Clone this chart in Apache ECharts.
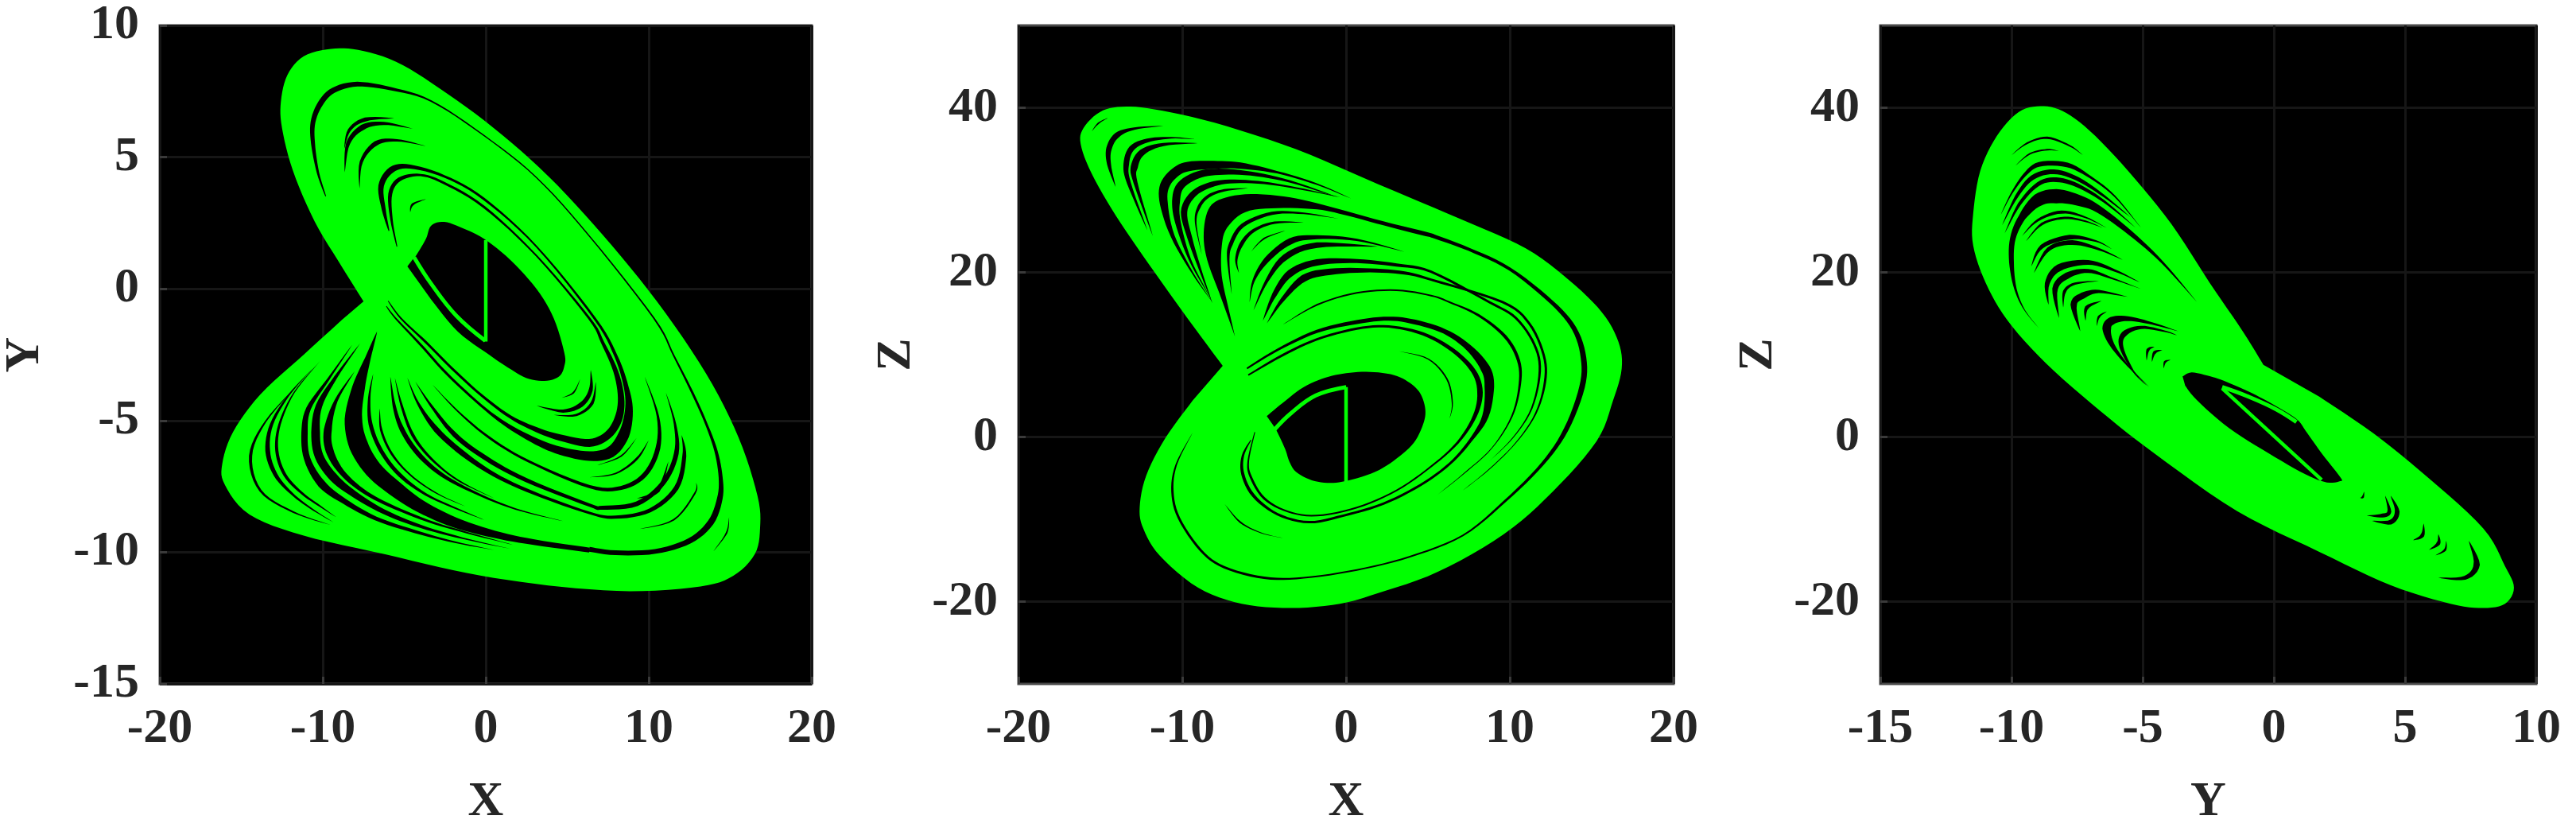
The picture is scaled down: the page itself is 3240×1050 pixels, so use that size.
<!DOCTYPE html>
<html><head><meta charset="utf-8">
<style>html,body{margin:0;background:#fff}#c{width:3240px;height:1050px}</style>
<script src="https://cdn.jsdelivr.net/npm/echarts@6/dist/echarts.min.js"></script>
</head><body><div id="c"></div>
<script>
// ---- Panel X-Y ----
const outlineXY=[[-7.5,-0.48],[-8.83,0.84],[-10.5,2.56],[-11.83,4.48],[-12.5,6.1],[-12.57,7.11],[-12.17,8.12],[-11.17,8.83],[-9.5,9.11],[-7.83,9.07],[-5.5,8.62],[-2.83,7.61],[0.5,6.1],[3.83,4.28],[7.17,2.05],[10.5,-0.48],[13.5,-3.2],[15.5,-5.63],[16.67,-7.86],[16.83,-9.07],[16.5,-10.08],[15.17,-10.9],[13.17,-11.3],[8.83,-11.48],[3.83,-11.26],[-1.17,-10.79],[-6.17,-10.08],[-11.17,-9.37],[-14.5,-8.57],[-16,-7.45],[-16.17,-6.65],[-15.5,-5.43],[-13.83,-4.01],[-11.17,-2.5],[-8.83,-1.18]];
const holeXY=[[-4.81,0.85],[-4.48,1.12],[-4.24,1.3],[-3.67,1.9],[-3.35,2.4],[-2.54,2.54],[-1.41,2.3],[-0.11,1.9],[1.5,1.1],[3.12,-0.01],[4.17,-1.12],[4.82,-2.43],[4.82,-2.93],[4.49,-3.33],[3.6,-3.5],[2.47,-3.38],[1.34,-2.98],[0.2,-2.5],[-1.73,-1.62],[-3.35,-0.41]];
const arcXY=[[-4.4,1.2],[-3.35,0.19],[-1.81,-1.02],[-0.03,-1.97]];
const stemXY=[[0,1.85],[0,-2]];
const gapsXY=[
[[-6.67,-1.62],[-7.23,-2.63],[-7.8,-3.74],[-8.12,-4.94],[-7.8,-5.95],[-6.91,-6.85],[-5.62,-7.56],[-4,-8.26],[-1.9,-8.87],[0.53,-9.32],[2.96,-9.62],[6.36,-9.92]],
[[6.35,-9.89],[7.97,-10.02],[10.4,-9.97],[12.5,-9.57],[13.8,-8.87],[14.36,-7.96],[14.41,-7.16],[14.12,-6.15],[13.47,-5.04],[12.67,-3.94],[11.53,-2.53],[10.32,-1.12],[6.36,2],[3.12,4.22],[-0.11,5.82],[-3.35,7.13],[-5.78,7.59],[-7.88,7.77],[-9.34,7.54],[-10.15,7.03],[-10.6,6.33],[-10.6,5.52],[-10.3,4.42],[-9.82,3.51]],
[[-5.99,-0.46],[-5.21,-1.12],[-3.67,-2.03],[-2.06,-3.03],[-0.27,-4.04],[1.5,-4.86],[3.12,-5.35],[4.58,-5.65],[6.35,-5.85],[7.49,-5.55],[8.13,-4.94],[8.3,-4.14],[7.97,-3.13],[7.16,-2.03],[6.35,-1.12],[3.12,1.25],[-0.11,3.11],[-2.54,4.01],[-4,4.32],[-5.29,4.16],[-5.86,3.61],[-5.78,2.61],[-5.45,1.6]],
[[-6.1,-0.66],[-5.53,-1.12],[-3.99,-2.13],[-2.38,-3.23],[-0.27,-4.44],[1.34,-5.19],[3.12,-5.8],[4.58,-6.15],[6.35,-6.35],[7.65,-6.2],[8.46,-5.55],[8.78,-4.64],[8.62,-3.74],[7.97,-2.53],[6.68,-1.12],[3.12,1.6],[-0.11,3.41],[-2.54,4.27],[-4.64,4.64],[-5.78,4.52],[-6.42,3.91],[-6.26,3.01],[-5.94,2.2]],
[[-8.2,-2.13],[-9.66,-3.43],[-10.87,-4.54],[-11.12,-5.45],[-10.96,-6.45],[-10.07,-7.41],[-8.69,-8.06],[-6.75,-8.72],[-4.32,-9.22],[-1.89,-9.62],[0.53,-9.92]],
[[-7.72,-2.08],[-9.18,-3.33],[-10.23,-4.44],[-10.44,-5.45],[-10.23,-6.35],[-9.34,-7.16],[-8.04,-7.81],[-6.26,-8.46],[-4,-9.02],[-1.41,-9.47],[1.5,-9.87]],
[[-8.04,-3.13],[-9.18,-4.24],[-9.69,-5.35],[-9.58,-6.15],[-8.85,-6.95],[-7.56,-7.66],[-5.94,-8.21],[-3.51,-8.82],[-1.09,-9.27],[1.67,-9.72]],
[[-10.63,-3.03],[-12.09,-4.04],[-13.14,-5.14],[-13.38,-6.15],[-12.9,-7.06],[-11.93,-7.76],[-10.79,-8.31],[-9.34,-8.87]],
[[-10.15,-2.73],[-11.76,-3.94],[-12.65,-5.14],[-12.82,-6.15],[-12.33,-7.06],[-11.28,-7.76],[-10.15,-8.26],[-9.18,-8.67]],
[[-11.5,-3.61],[-13.5,-5.03],[-14.43,-6.34],[-13.83,-7.66],[-11.83,-8.47],[-9.5,-8.97]],
[[-6.91,-3.23],[-7.15,-4.14],[-7.07,-5.14],[-6.42,-6.15],[-5.29,-7.06],[-3.67,-7.81],[-1.73,-8.36],[-0.11,-8.77]],
[[-6.51,-4.54],[-6.42,-5.35],[-5.78,-6.25],[-4.64,-7.06],[-3.03,-7.76],[-1.25,-8.26]],
[[-5.86,-3.33],[-5.62,-4.44],[-5.13,-5.35],[-4.16,-6.25],[-2.7,-7.06],[-0.6,-7.76],[1.83,-8.36],[4.74,-8.82]],
[[-5.58,-3.38],[-5.16,-4.44],[-4.48,-5.55],[-3.35,-6.45],[-1.73,-7.26],[0.53,-7.96]],
[[-4.81,-3.38],[-4.16,-4.34],[-3.03,-5.35],[-1.41,-6.25],[0.53,-7.06],[2.96,-7.76],[6.36,-8.51],[7.97,-8.67],[10.08,-8.41],[11.69,-7.56],[12.18,-6.35],[12.02,-5.55]],
[[-4.32,-3.53],[-3.35,-4.44],[-1.89,-5.55],[0.05,-6.45],[2.47,-7.26],[6.36,-8.21],[7.16,-8.31],[9.27,-8.16],[10.89,-7.36],[11.69,-6.25],[11.61,-5.14],[11.05,-3.94]],
[[-3.27,-3.64],[-1.73,-4.64],[0.21,-5.65],[2.64,-6.55],[6.36,-7.51],[8.3,-7.56],[9.75,-7.06],[10.56,-6.05],[10.56,-4.84],[9.75,-3.33]],
[[3.12,-4.44],[4.74,-4.64],[5.87,-4.39],[6.44,-3.84],[6.44,-3.08]],
[[4.17,-4.79],[5.55,-4.79],[6.52,-4.34],[6.76,-3.53]],
[[6.35,-7.16],[7.97,-7.01],[9.27,-6.45],[10,-5.75]],
[[6.84,-6.7],[8.3,-6.35],[9.27,-5.65]],
[[9.27,-7.96],[10.56,-7.66],[11.21,-6.55]],
[[9.43,-9.12],[11.53,-8.77],[12.83,-7.76],[12.91,-7.36]],
[[4.66,-4.14],[5.38,-3.94],[5.79,-3.43]],
[[13.96,-9.97],[14.77,-9.27],[14.93,-8.67]],
[[-8.69,5.32],[-8.37,6.03],[-7.39,6.43],[-5.61,6.48]],
[[-8.66,4.42],[-8.45,5.52],[-7.56,6.13],[-6.26,6.28],[-4.48,6.08]],
[[-7.75,3.81],[-7.64,4.82],[-6.75,5.52],[-5.45,5.64],[-3.67,5.42]],
[[-4.64,2.91],[-4.48,3.21],[-3.67,3.41]]
];
const gapWidthsXY=[
[0,7,16,22,24,22,20,16,13,9,7,6],
[6,6,6,7,8,7,5,4,3,3,2,2,1.5,1.5,1.5,2,4,6,7,7,6,5,3,1],
[1,2,3,3,3,4,6,8,10,10,10,8,6,4,3,2,3,3,3,5,5,3,1],
[1,2,3,3,3,5,8,10,12,14,14,10,6,4,3,2,3,3,5,8,7,5,1],
[0,3,6,8,8,10,7,5,4,2,0],[0,4,8,11,11,11,8,6,4,2,0],[0,4,10,10,7,5,4,3,2,0],
[0,2,4,6,5,3,2,0],[0,1.5,3,4,4,3,2,0],[0,2,4,3,2,0],
[0,3,5,5,5,3,2,0],[0,3,3,2,1.5,0],[0,4,6,6,5,3,2,0],[0,3,4,3,2,0],
[0,3,7,7,5,4,3,4,5,6,5,0],[0,3,6,6,5,4,5,6,6,6,3,0],[0,2,3,3,4,5,6,6,3,0],
[0,4,6,5,0],[0,3,4,0],[0,2,3,0],[0,2,0],[0,5,0],[0,2,2,0],[0,2,0],[0,2,0],
[0,4,5,0],[0,5,7,4,0],[0,4,6,3,0],[0,3,0]
];
// ---- Panel X-Z ----
const outlineXZ=[[-7.53,8.64],[-9.7,14.48],[-12.03,20.97],[-14.03,26.82],[-15.53,32],[-16.2,35.58],[-16.03,37.53],[-15.03,39.48],[-13.7,40.13],[-11.7,39.81],[-8.03,38.18],[-3.03,34.94],[1.97,30.71],[6.97,26.49],[10.97,22.92],[13.63,19.03],[15.63,15.13],[16.63,11.56],[16.83,8.31],[16.3,4.42],[15.3,-0.5],[12.63,-6.62],[9.63,-11.82],[5.63,-16.36],[1.97,-18.96],[-0.37,-20.26],[-3.37,-20.78],[-6.37,-20.26],[-9.03,-18.31],[-11.37,-14.42],[-12.37,-11.17],[-12.6,-8.57],[-12.2,-4.68],[-11.03,-0.13],[-9.37,4.42]];
const holeXZ=[[-4.84,2.53],[-3.87,4.14],[-2.58,6.07],[-1.28,7.2],[0.01,7.75],[1.47,7.91],[2.93,7.52],[3.9,6.56],[4.54,5.27],[4.84,3.34],[4.71,1.57],[4.14,-0.69],[3.09,-2.62],[1.79,-4.23],[0.18,-5.26],[-0.96,-5.58],[-2.09,-5.26],[-3.06,-4.23],[-3.47,-2.94],[-3.71,-1.5],[-4.2,0.6],[-4.44,1.4]];
const arcXZ=[[-4.36,0.92],[-3.38,2.85],[-1.85,5.04],[0.01,6.07]];
const stemXZ=[[0,6.07],[0,-5.46]];
const wedgeXZ=[[-6.78,12.19],[-7.59,16.7],[-8.48,21.53],[-8.69,24.75],[-8.4,27.65],[-7.59,28.94],[-5.81,29.52],[-3.39,29.1],[-0.96,27.97],[2.28,26.2],[5.19,24.75],[5.19,24.27],[2.28,25.72],[-0.15,27.01],[-1.77,27.65],[-4.2,27.81],[-6.14,27.33],[-7.27,25.4],[-7.59,23.14],[-7.59,19.6],[-7.19,15.74]];
const gapsXZ=[
[[-6.05,8.33],[-4.19,10.58],[-1.77,12.84],[0.66,13.96],[2.6,14.38],[4.22,13.96],[6,12.84],[7.46,10.9],[8.51,8.33],[8.75,6.07],[8.51,2.53],[7.62,-0.37],[6.32,-3.27],[4.54,-5.84],[2.28,-8.1],[-0.15,-9.55],[-2.25,-10.35],[-4.19,-9.38],[-5.65,-7.13],[-6.3,-4.55],[-6.3,-2.3],[-5.81,-0.37]],
[[-5.97,7.52],[-3.87,9.94],[-1.77,11.87],[0.66,13.16],[2.6,13.42],[4.71,12.52],[6.49,10.58],[7.78,8.01],[8.18,5.43],[7.86,2.53],[6.81,-0.69],[5.19,-3.59],[3.09,-6.49],[0.66,-8.58],[-1.77,-9.55],[-3.55,-9.06],[-5,-7.45],[-5.81,-4.88],[-5.97,-2.94],[-5.57,0.6]],
[[-3.87,13.64],[-1.77,16.06],[0.66,17.51],[3.09,17.83],[5.19,17.18],[6.32,16.38],[8.1,14.77],[9.72,12.19],[10.53,9.3],[10.61,6.4],[10.13,2.53],[8.91,-1.33],[7.13,-4.55],[5.51,-7.13]],
[[-5.08,14.12],[-4.36,17.35],[-3.39,19.92],[-1.77,21.21],[0.66,21.37],[3.09,20.89],[5.19,20.08],[8.75,16.38],[10.37,14.45],[11.5,11.23],[11.83,8.01],[11.34,3.5],[10.21,-0.04],[8.75,-2.94]],
[[-4.84,13.8],[-3.87,16.7],[-2.58,19.28],[-0.96,20.08],[1.47,20.24],[3.57,19.92],[5.19,19.12],[9.56,16.38],[11.18,13.8],[12.07,9.94],[12.15,6.72],[11.58,2.85],[10.37,-0.69],[8.75,-3.91],[7.13,-6.49]],
[[5.19,24.5],[7.5,22.8],[10,20.4],[12.55,16.38],[13.93,13.16],[14.5,9.62],[14.41,6.07],[13.44,0.92],[11.99,-3.27],[9.72,-7.77],[7.13,-11.96],[3.9,-14.54],[0.66,-16.15],[-2.58,-17.11],[-5,-17.11],[-7.43,-15.83],[-8.87,-13.77],[-10.2,-9.87],[-10.6,-6.62],[-10.37,-3.38],[-9.37,0.52]],
[[-15.52,37.15],[-15.12,38.12],[-14.55,38.76]],
[[-14.07,30.39],[-14.47,33.13],[-14.47,35.06],[-13.98,36.67],[-12.93,37.47],[-11.15,37.8]],
[[-12.12,25.07],[-13.26,30.87],[-13.42,33.13],[-13.09,35.06],[-12.12,36.03],[-10.67,36.35],[-9.21,36.19]],
[[-11.8,24.43],[-12.85,30.87],[-12.93,32.8],[-12.45,34.58],[-11.15,35.54],[-9.05,35.7]],
[[-8.16,16.38],[-9.37,19.92],[-10.59,24.43],[-11.12,28.3],[-11.07,30.55],[-10.42,32.16],[-9.62,32.87],[-8.08,33.06],[-6.46,32.97],[-4.2,32.16],[-1.77,30.71],[0.34,28.94]],
[[-8.32,17.02],[-9.53,21.53],[-10.26,26.04],[-10.38,28.62],[-10.1,30.55],[-9.05,31.84],[-7.75,32.22],[-5.81,32],[-3.39,31.03],[-0.47,29.1]],
[[-8.16,16.22],[-8.89,20.24],[-9.53,24.11],[-9.89,27.33],[-9.37,29.42],[-8.4,30.55],[-7.11,31.03],[-5,30.87],[-2.58,30.07],[-0.31,29.1]],
[[-8.81,22.18],[-9.18,26.04],[-8.97,27.97],[-8.4,29.26],[-7.43,29.97],[-5.97,30.23]],
[[-6.98,17.35],[-7.19,21.53],[-7.03,23.46],[-6.3,25.72],[-4.52,27.17],[-2.58,27.17],[-0.47,26.52]],
[[-6.54,19.92],[-6.7,21.53],[-6.38,23.46],[-5.65,25.07],[-4.36,26.04],[-2.58,26.04]],
[[-5.81,22.5],[-5,24.11],[-3.71,25.07]],
[[-5.89,16.38],[-5.65,18.96],[-4.84,21.53],[-3.39,23.79],[-1.77,24.27],[0.66,23.95],[3.57,22.5]],
[[-5.65,15.41],[-4.84,18.96],[-3.71,21.85],[-1.77,23.3],[1.95,23.14]],
[[3.25,10.42],[5.03,9.46],[6.16,7.04],[6.49,4.14],[6.32,2.21]],
[[-7.43,-8.1],[-6.46,-10.35],[-5.2,-11.64],[-3.87,-12.28]]
];
const gapWidthsXZ=[
[2,3,4,5,5,6,6,8,12,12,8,4,3,3,3,3,3,3,4,4,3,1],
[2,3,3,3,3,4,5,6,7,5,3,2,2,2,2,2,3,3,2,1],
[0,2,2,2,2,2,3,4,4,3,2,1,1,0],
[0,6,9,8,5,4,3,3,3,3,3,2,1,0],
[0,5,9,8,5,4,3,3,3,3,3,2,1,1,0],
[5,4,4,5,6,7,7,6,4,3,2,2,2,2,3,3,3,3,3,2,0],
[0,2,0],[0,5,7,7,3,0],[0,5,7,7,5,2,0],[0,5,9,8,4,0],
[0,2,5,10,12,12,12,10,8,3,2,0],[0,3,7,10,10,9,8,5,3,0],[0,3,6,8,8,7,5,3,2,0],[0,2,4,4,3,0],
[0,3,5,5,4,2,0],[0,3,5,4,3,0],[0,2,0],[0,3,7,8,5,3,0],[0,4,8,7,0],[0,1.5,2,1.5,0],[0,2,1,0]
];
// ---- Panel Y-Z ----
const outlineYZ=[[-0.4,8.77],[-1.19,12.86],[-2.44,18.7],[-3.9,25.84],[-5.56,32.34],[-7.02,37.21],[-8.06,39.61],[-8.9,40.19],[-9.73,39.48],[-10.56,36.56],[-11.19,32.34],[-11.46,27.14],[-11.46,23.25],[-10.98,18.7],[-10.15,14.16],[-8.69,8.96],[-6.6,3.12],[-4.52,-2.08],[-1.4,-9],[1.73,-13.95],[4.44,-17.99],[6.73,-20.26],[7.98,-20.78],[8.81,-20.26],[9.15,-18.31],[8.81,-15.71],[7.98,-11.1],[5.9,-5],[3.81,0.4],[1.73,4.9]];
const holeYZ=[[-3.48,7.36],[-3.13,7.84],[-2.42,7.36],[-1.82,6.72],[-0.7,5.11],[0.31,3.34],[0.91,2.05],[1.21,0.76],[1.82,-1.98],[2.53,-4.88],[2.53,-5.36],[2.02,-5.52],[1.21,-4.55],[-0.2,-1.98],[-1.71,1.08],[-2.93,4.46],[-3.38,6.23]];
const arcYZ=[[0.86,1.82],[0.1,3.34],[-1.01,4.95],[-1.97,6.07]];
const stemYZ=[[-1.97,5.91],[1.82,-5.2]];
const gapsYZ=[
[[-2.93,16.38],[-4.25,21.21],[-5.46,24.75],[-6.67,27.65],[-7.48,28.78],[-8.29,29.26],[-8.99,28.78],[-9.6,26.68],[-9.95,24.11],[-10,21.21],[-9.85,17.99],[-9.5,15.41],[-8.94,13.16]],
[[-10.41,27],[-10,29.58],[-9.5,31.84],[-8.94,33.12],[-7.88,33.06],[-6.97,31.51],[-6.07,29.26],[-5.06,25.4]],
[[-10.36,25.72],[-9.8,29.26],[-9.2,31.51],[-8.39,32.22],[-7.48,31.35],[-6.47,29.26],[-5.46,26.68]],
[[-10.26,24.75],[-9.7,28.29],[-8.99,30.71],[-8.29,31.26],[-7.48,30.55],[-6.47,28.62],[-5.26,25.4]],
[[-10,34.25],[-9.4,35.7],[-8.64,36.35],[-7.78,35.38],[-7.28,34.25]],
[[-9.85,32.96],[-9.3,34.41],[-8.64,34.9],[-8.19,34.74]],
[[-9.6,24.43],[-8.99,26.36],[-8.09,27.33],[-7.18,26.68],[-6.37,25.4]],
[[-9.45,23.79],[-8.84,25.88],[-7.98,26.62],[-7.18,26.2],[-6.52,25.4]],
[[-9.25,20.73],[-8.84,23.14],[-7.78,24.27],[-6.77,23.79],[-6.17,22.82]],
[[-9.15,19.92],[-8.59,22.82],[-7.68,23.62],[-6.67,22.82],[-5.76,21.53]],
[[-8.59,16.06],[-8.64,18.63],[-8.19,20.56],[-7.08,21.21],[-6.07,20.24],[-5.11,18.79]],
[[-8.19,14.45],[-8.34,17.99],[-7.88,19.6],[-7.08,20.18],[-6.17,19.28],[-5.06,17.99]],
[[-8.03,15.73],[-7.98,17.67],[-7.58,18.63],[-6.67,18.96]],
[[-7.38,12.84],[-7.63,16.06],[-7.28,17.18],[-6.67,17.67],[-5.56,17.02]],
[[-7.18,14.12],[-7.13,15.73],[-6.57,16.54]],
[[-6.75,13.48],[-6.67,14.61],[-6.37,15.25]],
[[-4.75,6.07],[-5.56,8.65],[-6.17,11.22],[-6.37,13.16],[-6.17,14.12],[-5.56,14.38],[-4.65,13.8],[-3.64,12.84]],
[[-4.85,6.23],[-5.36,8],[-5.81,10.9],[-5.71,12.51],[-5.06,13.32],[-4.15,12.84],[-3.69,12.35]],
[[-4.85,9.29],[-4.8,10.58],[-4.55,10.97]],
[[-4.65,9.13],[-4.55,10.26],[-4.25,10.58]],
[[-4.2,8.33],[-4.15,9.12],[-3.94,9.36]],
[[3.54,-9.55],[4.14,-9.55],[4.4,-9.06],[4.24,-7.13]],
[[3.74,-10.19],[4.45,-10.35],[4.7,-9.06],[4.45,-7.13]],
[[5.31,-12.54],[5.66,-11.96],[5.71,-10.51]],
[[5.91,-13.73],[6.27,-12.93],[6.27,-11.8]],
[[6.16,-14.38],[6.52,-13.73],[6.57,-12.6]],
[[6.27,-17.11],[7.28,-17.11],[7.73,-15.5],[7.43,-12.6]],
[[3.29,-7.39],[3.39,-7.29],[3.44,-6.65]]
];
const gapWidthsYZ=[
[0,3,6,9,14,18,16,9,7,6,3,1,0],
[0,2,4,6,6,3,2,0],[0,4,6,6,5,3,0],[0,4,5,6,5,3,0],[0,2,3,2,0],[0,2,2,0],[0,3,4,2,0],[0,3,3,2,0],
[0,5,6,2,0],[0,5,6,3,0],[0,6,9,6,3,0],[0,7,8,5,2,0],[0,4,3,0],[0,8,8,4,0],[0,5,0],[0,3,0],
[0,2,6,11,10,6,3,0],[0,2,5,7,4,2,0],[0,4,0],[0,4,0],[0,3,0],
[0,5,5,0],[0,6,6,0],[0,5,0],[0,5,0],[0,3,0],[0,5,8,0],[0,3,0]
];
// ---- Axes text ----
const panels=[
 {left:197,width:824,xName:'X',yName:'Y',xRange:[-20,20],yRange:[-15,10],xTicks:[-20,-10,0,10,20],yTicks:[-15,-10,-5,0,5,10],outline:outlineXY,hole:holeXY,arc:arcXY,stem:stemXY,gaps:gapsXY,widths:gapWidthsXY,wedges:[]},
 {left:1281,width:824,xName:'X',yName:'Z',xRange:[-20,20],yRange:[-30,50],xTicks:[-20,-10,0,10,20],yTicks:[-20,0,20,40],outline:outlineXZ,hole:holeXZ,arc:arcXZ,stem:stemXZ,gaps:gapsXZ,widths:gapWidthsXZ,wedges:[wedgeXZ]},
 {left:2365,width:825,xName:'Y',yName:'Z',xRange:[-15,10],yRange:[-30,50],xTicks:[-15,-10,-5,0,5,10],yTicks:[-20,0,20,40],outline:outlineYZ,hole:holeYZ,arc:arcYZ,stem:stemYZ,gaps:gapsYZ,widths:gapWidthsYZ,wedges:[]}
];
const GREEN='#00ff00',FONT='"Liberation Serif","Times New Roman",serif',TXT='#262626';
function spline(px,n){ // draw-time smoothing of a read-off polyline, in pixels
  const out=[];const L=px.length;
  for(let i=0;i<L-1;i++){
    const p0=px[Math.max(i-1,0)],p1=px[i],p2=px[i+1],p3=px[Math.min(i+2,L-1)];
    for(let k=0;k<n;k++){const t=k/n,t2=t*t,t3=t2*t;
      out.push([.5*(2*p1[0]+(p2[0]-p0[0])*t+(2*p0[0]-5*p1[0]+4*p2[0]-p3[0])*t2+(3*p1[0]-p0[0]-3*p2[0]+p3[0])*t3),
                .5*(2*p1[1]+(p2[1]-p0[1])*t+(2*p0[1]-5*p1[1]+4*p2[1]-p3[1])*t2+(3*p1[1]-p0[1]-3*p2[1]+p3[1])*t3), i+t]);}
  }
  out.push([px[L-1][0],px[L-1][1],L-1]);return out;
}
function shapeSeries(gi,pts,fill,z,smoothN,widths){
  return {type:'custom',xAxisIndex:gi,yAxisIndex:gi,z,silent:true,animation:false,clip:false,data:pts,encode:{x:0,y:1},
    renderItem(params,api){
      if(params.dataIndex!==0)return null;
      const px=pts.map(p=>api.coord(p));
      let poly;
      if(widths){
        const s=spline(px,6),a=[],b=[];
        s.forEach((q,i)=>{
          const u=s[Math.max(i-1,0)],v=s[Math.min(i+1,s.length-1)];
          let dx=v[0]-u[0],dy=v[1]-u[1];const l=Math.hypot(dx,dy)||1;dx/=l;dy/=l;
          const j=Math.min(Math.floor(q[2]),widths.length-1),f=q[2]-j,
                w=(widths[j]*(1-f)+(widths[Math.min(j+1,widths.length-1)]??0)*f)/2;
          a.push([q[0]-dy*w,q[1]+dx*w]);b.push([q[0]+dy*w,q[1]-dx*w]);
        });
        poly=a.concat(b.reverse());
      }else{
        poly=spline(px,smoothN).map(q=>[q[0],q[1]]);
      }
      return {type:'polygon',shape:{points:poly},style:{fill,stroke:null}};
    }};
}
const option={animation:false,backgroundColor:'#fff',grid:[],xAxis:[],yAxis:[],series:[]};
panels.forEach((p,i)=>{
  option.grid.push({left:p.left,width:p.width,top:32,height:828,show:true,backgroundColor:'#000',borderColor:'#484848',borderWidth:3,containLabel:false});
  const axis=(name,range,ticks,gap,margin)=>({type:'value',gridIndex:i,name,nameLocation:'middle',nameGap:gap,min:range[0],max:range[1],
    nameTextStyle:{fontFamily:FONT,fontWeight:'bold',fontSize:62,color:TXT},
    axisLine:{show:false,onZero:false},
    axisTick:{show:true,inside:true,length:9,customValues:ticks,lineStyle:{color:'#3a3a3a',width:3}},
    axisLabel:{margin,customValues:ticks,fontFamily:FONT,fontWeight:'bold',fontSize:62,color:TXT,formatter:v=>String(v)},
    splitLine:{show:true,lineStyle:{color:'#161616',width:3}}});
  option.xAxis.push(axis(p.xName,p.xRange,p.xTicks,118,26));
  option.yAxis.push(axis(p.yName,p.yRange,p.yTicks,[138,122,122][i],26));
  option.series.push(shapeSeries(i,p.outline,GREEN,2,6));
  option.series.push(shapeSeries(i,p.hole,'#000',3,6));
  p.wedges.forEach(w=>option.series.push(shapeSeries(i,w,'#000',3,6)));
  p.gaps.forEach((g,k)=>option.series.push(shapeSeries(i,g,'#000',3,6,p.widths[k])));
  option.series.push({type:'line',xAxisIndex:i,yAxisIndex:i,data:p.arc,z:4,smooth:0.4,showSymbol:false,silent:true,lineStyle:{color:GREEN,width:5}});
  option.series.push({type:'line',xAxisIndex:i,yAxisIndex:i,data:p.stem,z:4,showSymbol:false,silent:true,lineStyle:{color:GREEN,width:4.5}});
});
echarts.init(document.getElementById('c'),null,{renderer:'canvas'}).setOption(option);
</script></body></html>
